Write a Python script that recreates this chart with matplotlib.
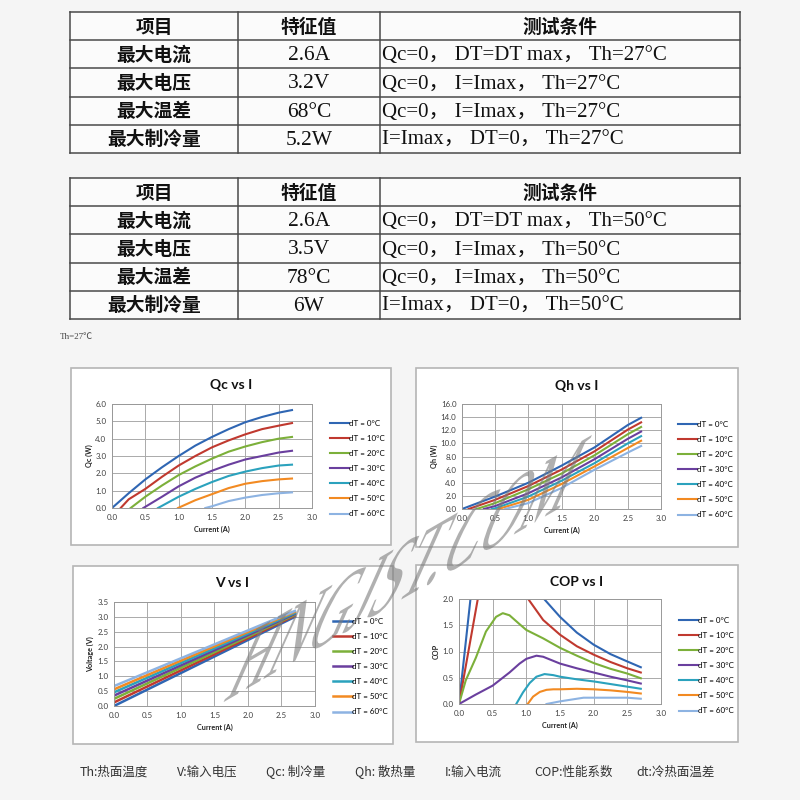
import matplotlib
matplotlib.use("Agg")
import matplotlib.pyplot as plt
from matplotlib.patches import Rectangle, PathPatch
from matplotlib.textpath import TextPath
from matplotlib.font_manager import FontProperties
from matplotlib import transforms

W, H, DPI = 800, 800, 100

# ---------------- table data ----------------
tbl_header = ["项目", "特征值", "测试条件"]
tbl_items = ["最大电流", "最大电压", "最大温差", "最大制冷量"]
tbl1_values = ["2.6A", "3.2V", "68°C", "5.2W"]
tbl1_cond = ["Qc=0， DT=DT max， Th=27°C",
             "Qc=0， I=Imax， Th=27°C",
             "Qc=0， I=Imax， Th=27°C",
             "I=Imax， DT=0， Th=27°C"]
tbl2_values = ["2.6A", "3.5V", "78°C", "6W"]
tbl2_cond = ["Qc=0， DT=DT max， Th=50°C",
             "Qc=0， I=Imax， Th=50°C",
             "Qc=0， I=Imax， Th=50°C",
             "I=Imax， DT=0， Th=50°C"]

footer_items = ["Th:热面温度", "V:输入电压", "Qc: 制冷量", "Qh: 散热量",
                "I:输入电流", "COP:性能系数", "dt:冷热面温差"]

# ---------------- chart data ----------------
dT_labels = ["dT = 0°C", "dT = 10°C", "dT = 20°C", "dT = 30°C",
             "dT = 40°C", "dT = 50°C", "dT = 60°C"]
colors = ["#2f66b3", "#c0392f", "#7cb03a", "#6a3f9e", "#2ba2bd", "#f28a22", "#8db3e2"]

# Qc vs I
qc_x = [[0, 0.25, 0.5, 0.75, 1.0, 1.25, 1.5, 1.75, 2.0, 2.25, 2.5, 2.7],
        [0.13, 0.25, 0.5, 0.75, 1.0, 1.25, 1.5, 1.75, 2.0, 2.25, 2.5, 2.7],
        [0.28, 0.5, 0.75, 1.0, 1.25, 1.5, 1.75, 2.0, 2.25, 2.5, 2.7],
        [0.47, 0.75, 1.0, 1.25, 1.5, 1.75, 2.0, 2.25, 2.5, 2.7],
        [0.69, 1.0, 1.25, 1.5, 1.75, 2.0, 2.25, 2.5, 2.7],
        [0.99, 1.25, 1.5, 1.75, 2.0, 2.25, 2.5, 2.7],
        [1.4, 1.5, 1.75, 2.0, 2.25, 2.5, 2.7]]
qc_y = [[0, 0.85, 1.65, 2.35, 3.0, 3.6, 4.1, 4.55, 4.95, 5.25, 5.5, 5.65],
        [0, 0.5, 1.1, 1.8, 2.45, 3.0, 3.5, 3.9, 4.25, 4.55, 4.75, 4.9],
        [0, 0.65, 1.3, 1.9, 2.4, 2.85, 3.25, 3.55, 3.8, 4.0, 4.1],
        [0, 0.65, 1.25, 1.75, 2.15, 2.5, 2.8, 3.0, 3.2, 3.3],
        [0, 0.65, 1.1, 1.5, 1.85, 2.1, 2.3, 2.45, 2.5],
        [0, 0.45, 0.8, 1.15, 1.4, 1.55, 1.65, 1.7],
        [0, 0.1, 0.4, 0.6, 0.75, 0.85, 0.9]]

# Qh vs I
qh_x = [[0, 0.5, 1.0, 1.5, 2.0, 2.5, 2.7],
        [0.1, 0.5, 1.0, 1.5, 2.0, 2.5, 2.7],
        [0.22, 0.5, 1.0, 1.5, 2.0, 2.5, 2.7],
        [0.33, 0.5, 1.0, 1.5, 2.0, 2.5, 2.7],
        [0.45, 0.5, 1.0, 1.5, 2.0, 2.5, 2.7],
        [0.55, 1.0, 1.5, 2.0, 2.5, 2.7],
        [0.65, 1.0, 1.5, 2.0, 2.5, 2.7]]
qh_y = [[0, 1.9, 4.0, 6.6, 9.4, 12.8, 13.9],
        [0, 1.4, 3.5, 6.0, 8.8, 12.1, 13.2],
        [0, 0.9, 3.0, 5.4, 8.2, 11.4, 12.5],
        [0, 0.45, 2.4, 4.8, 7.6, 10.7, 11.8],
        [0, 0.1, 1.9, 4.3, 7.0, 10.0, 11.1],
        [0, 1.4, 3.8, 6.5, 9.3, 10.4],
        [0, 0.9, 3.2, 6.0, 8.6, 9.6]]

# V vs I
v_x = [0, 2.7]
v_start = [0.0, 0.12, 0.24, 0.35, 0.46, 0.56, 0.67]
v_end = [3.0, 3.04, 3.07, 3.1, 3.13, 3.17, 3.2]

# COP vs I
cop_x = [[0, 0.2, 0.5, 0.75, 1.0, 1.25, 1.5, 1.75, 2.0, 2.25, 2.5, 2.7],
         [0, 0.3, 0.5, 0.75, 1.0, 1.25, 1.5, 1.75, 2.0, 2.25, 2.5, 2.7],
         [0, 0.1, 0.25, 0.4, 0.55, 0.65, 0.75, 0.9, 1.0, 1.25, 1.5, 1.75, 2.0, 2.25, 2.5, 2.7],
         [0, 0.25, 0.5, 0.65, 0.75, 0.9, 1.0, 1.15, 1.25, 1.5, 1.75, 2.0, 2.25, 2.5, 2.7],
         [0.85, 0.95, 1.05, 1.15, 1.27, 1.4, 1.5, 1.75, 2.0, 2.25, 2.5, 2.7],
         [1.02, 1.1, 1.2, 1.3, 1.4, 1.5, 1.75, 2.0, 2.25, 2.5, 2.7],
         [1.3, 1.5, 1.75, 1.85, 2.0, 2.25, 2.5, 2.7]]
cop_y = [[0, 2.35, 2.9, 2.6, 2.3, 2.02, 1.66, 1.36, 1.13, 0.95, 0.81, 0.7],
         [0, 2.15, 2.6, 2.45, 2.05, 1.6, 1.32, 1.1, 0.94, 0.8, 0.68, 0.6],
         [0, 0.45, 0.88, 1.38, 1.66, 1.73, 1.69, 1.52, 1.41, 1.25, 1.07, 0.92, 0.78, 0.67, 0.58, 0.49],
         [0, 0.18, 0.35, 0.5, 0.6, 0.77, 0.86, 0.92, 0.9, 0.77, 0.68, 0.6, 0.52, 0.45, 0.39],
         [0, 0.22, 0.4, 0.52, 0.57, 0.55, 0.52, 0.47, 0.43, 0.38, 0.33, 0.29],
         [0, 0.14, 0.23, 0.27, 0.28, 0.28, 0.29, 0.28, 0.26, 0.23, 0.2],
         [0, 0.05, 0.1, 0.12, 0.12, 0.12, 0.12, 0.1]]

serif = ["Liberation Serif", "Noto Sans CJK SC"]
cjk = ["Noto Sans CJK SC", "DejaVu Sans"]
chart_font = ["Lato", "DejaVu Sans"]

fig = plt.figure(figsize=(W / DPI, H / DPI), dpi=DPI)
fig.patch.set_facecolor("#f5f5f5")

# background axes in pixel coordinates
bg = fig.add_axes([0, 0, 1, 1])
bg.set_xlim(0, W)
bg.set_ylim(H, 0)
bg.axis("off")


def draw_table(top, values, conds):
    xs = [70, 238, 380, 740]
    row_h = 28.2
    ys = [top + i * row_h for i in range(6)]
    bg.add_patch(Rectangle((xs[0], ys[0]), xs[-1] - xs[0], ys[-1] - ys[0],
                           facecolor="#fbfbfb", edgecolor="none"))
    for y in ys:
        bg.plot([xs[0], xs[-1]], [y, y], color="#4a4a4a", lw=1.1)
    for x in xs:
        bg.plot([x, x], [ys[0], ys[-1]], color="#4a4a4a", lw=1.1)
    col_c = [(xs[0] + xs[1]) / 2, (xs[1] + xs[2]) / 2, (xs[2] + xs[3]) / 2]
    for j, h in enumerate(tbl_header):
        bg.text(col_c[j], (ys[0] + ys[1]) / 2 + 1, h, ha="center", va="center",
                fontsize=13.5, family=cjk, fontweight="bold", color="#111111")
    for i in range(4):
        yc = (ys[i + 1] + ys[i + 2]) / 2
        bg.text(col_c[0], yc + 1, tbl_items[i], ha="center", va="center",
                fontsize=13.5, family=cjk, fontweight="bold", color="#111111")
        bg.text(col_c[1], yc + 6, values[i], ha="center", va="baseline",
                fontsize=15.5, family=serif, color="#111111")
        bg.text(xs[2] + 2, yc + 6, conds[i], ha="left", va="baseline",
                fontsize=15, family=serif, color="#111111")


draw_table(12, tbl1_values, tbl1_cond)
draw_table(178, tbl2_values, tbl2_cond)

bg.text(60, 337, "Th=27℃", ha="left", va="center", fontsize=6.5, family=serif,
        color="#444444")

# footer
footer_x = [80, 177, 266, 355, 445, 534, 636]
for fx, s in zip(footer_x, footer_items):
    bg.text(fx, 772, s, ha="left", va="center", fontsize=9, family=cjk,
            fontweight="light", color="#333333")


def make_chart(box, plot, title, title_xy, ylabel, ylim, ystep):
    bx0, by0, bx1, by1 = box
    bg.add_patch(Rectangle((bx0, by0), bx1 - bx0, by1 - by0, facecolor="#ffffff",
                           edgecolor="#b5b5b5", lw=1.2))
    bg.text(title_xy[0], title_xy[1], title, ha="center", va="center", fontsize=10,
            fontweight="bold", family=chart_font, color="#111111")
    l, t, r, b = plot
    ax = fig.add_axes([l / W, 1 - b / H, (r - l) / W, (b - t) / H])
    ax.set_facecolor("white")
    ax.set_xlim(0, 3.0)
    ax.set_ylim(*ylim)
    xt = [i * 0.5 for i in range(7)]
    n = int(round((ylim[1] - ylim[0]) / ystep))
    yt = [ylim[0] + i * ystep for i in range(n + 1)]
    ax.set_xticks(xt)
    ax.set_yticks(yt)
    ax.set_xticklabels([f"{v:.1f}" for v in xt])
    ax.set_yticklabels([f"{v:.1f}" for v in yt])
    ax.grid(True, color="#aaaaaa", lw=0.7)
    ax.set_axisbelow(True)
    for s in ax.spines.values():
        s.set_color("#999999")
        s.set_linewidth(0.7)
    ax.tick_params(length=0, labelsize=5.7, labelcolor="#404040", pad=4)
    for lab in ax.get_xticklabels() + ax.get_yticklabels():
        lab.set_family(chart_font)
    ax.set_xlabel("Current (A)", fontsize=5.2, fontweight="bold", family=chart_font,
                  labelpad=4, color="#222222")
    ax.set_ylabel(ylabel, fontsize=5.2, fontweight="bold", family=chart_font,
                  labelpad=2, color="#222222")
    return ax


def add_legend(ax, leg_xy):
    ax.legend(loc="upper left", bbox_to_anchor=(leg_xy[0] / W, 1 - leg_xy[1] / H),
              bbox_transform=fig.transFigure, frameon=False,
              prop={"family": chart_font, "size": 5.8}, handlelength=2.3,
              handletextpad=0.1, labelspacing=1.0, borderpad=0, borderaxespad=0)


# Qc vs I
ax1 = make_chart((71, 368, 391, 545), (112, 404, 312, 508), "Qc vs I", (231, 385),
                 "Qc (W)", (0, 6), 1.0)
for xs_, ys_, c, lab in zip(qc_x, qc_y, colors, dT_labels):
    ax1.plot(xs_, ys_, color=c, lw=1.5, label=lab)
add_legend(ax1, (330, 420))

# Qh vs I
ax2 = make_chart((416, 368, 738, 547), (462, 404, 661, 509), "Qh vs I", (577, 386),
                 "Qh (W)", (0, 16), 2.0)
for xs_, ys_, c, lab in zip(qh_x, qh_y, colors, dT_labels):
    ax2.plot(xs_, ys_, color=c, lw=1.5, label=lab)
add_legend(ax2, (678, 421))

# V vs I
ax3 = make_chart((73, 566, 393, 744), (114, 602, 315, 706), "V vs I", (232, 583),
                 "Voltage (V)", (0, 3.5), 0.5)
for v0, v1, c, lab in zip(v_start, v_end, colors, dT_labels):
    ax3.plot(v_x, [v0, v1], color=c, lw=1.8, label=lab)
add_legend(ax3, (333, 618))

# COP vs I
ax4 = make_chart((416, 565, 738, 742), (459, 599, 661, 704), "COP vs I", (577, 582),
                 "COP", (0, 2.0), 0.5)
for xs_, ys_, c, lab in zip(cop_x, cop_y, colors, dT_labels):
    ax4.plot(xs_, ys_, color=c, lw=1.5, label=lab)
add_legend(ax4, (679, 617))

# watermark (slanted, sheared serif text)
wm_path = TextPath((0, 0), "HNGJST.COM", size=72,
                   prop=FontProperties(family="Liberation Serif"))
wm_tr = (transforms.Affine2D().scale(0.88, 1.0).skew_deg(54, 0)
         .rotate_deg(30).translate(222, H - 703))
wm = PathPatch(wm_path, facecolor="#7c7c7c", edgecolor="none", alpha=0.6,
               transform=wm_tr, zorder=20)
fig.add_artist(wm)

fig.savefig("out.png", dpi=DPI, facecolor=fig.get_facecolor())
